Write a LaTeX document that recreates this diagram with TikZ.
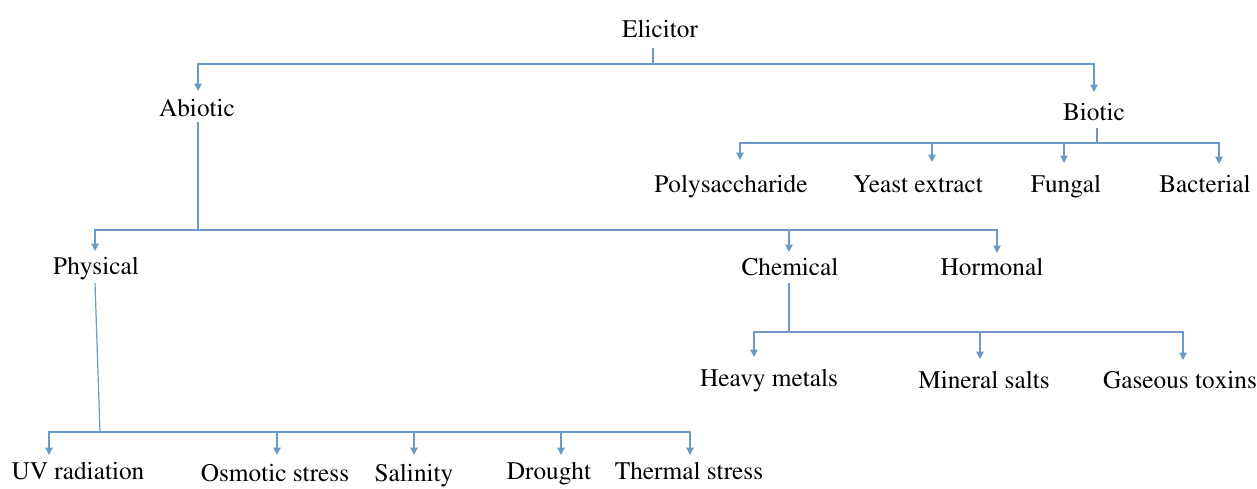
\documentclass[tikz,border=0pt]{standalone}
\usepackage[T1]{fontenc}
\renewcommand{\rmdefault}{ptm}
\usetikzlibrary{arrows.meta}
\definecolor{lnc}{HTML}{6C9AC5}
\begin{document}
\begin{tikzpicture}[x=1pt,y=-1pt,
  lbl/.style={inner sep=0pt,anchor=base,font=\rmfamily\fontsize{25.3}{30}\selectfont,text=black},
  ln/.style={draw=lnc,line width=1.2pt},
  arr/.style={ln,-{Triangle[width=7.5pt,length=7.5pt]}}]
\useasboundingbox[fill=white] (0,0) rectangle (1257,488);
% nodes
\node[lbl] (eli) at (660,37) {Elicitor};
\node[lbl] (abi) at (197,116) {Abiotic};
\node[lbl] (bio) at (1094,120) {Biotic};
\node[lbl] (pol) at (731,192) {Polysaccharide};
\node[lbl] (yea) at (918,192) {Yeast extract};
\node[lbl] (fun) at (1066,192) {Fungal};
\node[lbl] (bac) at (1205,192) {Bacterial};
\node[lbl] (phy) at (96,274) {Physical};
\node[lbl] (che) at (790,275) {Chemical};
\node[lbl] (hor) at (992,275) {Hormonal};
\node[lbl] (hea) at (769,386) {Heavy metals};
\node[lbl] (min) at (984,388) {Mineral salts};
\node[lbl] (gas) at (1180,388) {Gaseous toxins};
\node[lbl] (uvr) at (78,479) {UV radiation};
\node[lbl] (osm) at (275,481) {Osmotic stress};
\node[lbl] (sal) at (414,481) {Salinity};
\node[lbl] (dro) at (549,479) {Drought};
\node[lbl] (the) at (689,479) {Thermal stress};
% junction coordinates
\coordinate (e0) at (653,48);  \coordinate (e1) at (653,64);
\coordinate (a0) at (198,122); \coordinate (a1) at (198,230);
\coordinate (b0) at (1097,128); \coordinate (b1) at (1097,143);
\coordinate (p0) at (95,283);  \coordinate (p1) at (100,432);
\coordinate (c0) at (789,283); \coordinate (c1) at (789,332);
% arrow targets
\coordinate (tabi) at (198,91);  \coordinate (tbio) at (1094,92);
\coordinate (tpol) at (740,160); \coordinate (tyea) at (932,162);
\coordinate (tfun) at (1064,163);\coordinate (tbac) at (1219,164);
\coordinate (tphy) at (95,251);  \coordinate (tche) at (789,252);
\coordinate (thor) at (997,253);
\coordinate (thea) at (754,357); \coordinate (tmin) at (980,359);
\coordinate (tgas) at (1183,360);
\coordinate (tuvr) at (49,455);  \coordinate (tosm) at (277,455);
\coordinate (tsal) at (414,455); \coordinate (tdro) at (561,455);
\coordinate (tthe) at (690,455);
% stems
\draw[ln] (e0) -- (e1);
\draw[ln] (a0) -- (a1);
\draw[ln] (b0) -- (b1);
\draw[ln] (p0) -- (p1);
\draw[ln] (c0) -- (c1);
% branches
\draw[arr] (e1) -| (tabi);
\draw[arr] (e1) -| (tbio);
\draw[arr] (b1) -| (tpol);
\draw[arr] (b1) -| (tyea);
\draw[arr] (b1) -| (tfun);
\draw[arr] (b1) -| (tbac);
\draw[arr] (a1) -| (tphy);
\draw[arr] (a1) -| (tche);
\draw[arr] (a1) -| (thor);
\draw[arr] (c1) -| (thea);
\draw[arr] (c1) -| (tmin);
\draw[arr] (c1) -| (tgas);
\draw[arr] (p1) -| (tuvr);
\draw[arr] (p1) -| (tosm);
\draw[arr] (p1) -| (tsal);
\draw[arr] (p1) -| (tdro);
\draw[arr] (p1) -| (tthe);
\end{tikzpicture}
\end{document}
